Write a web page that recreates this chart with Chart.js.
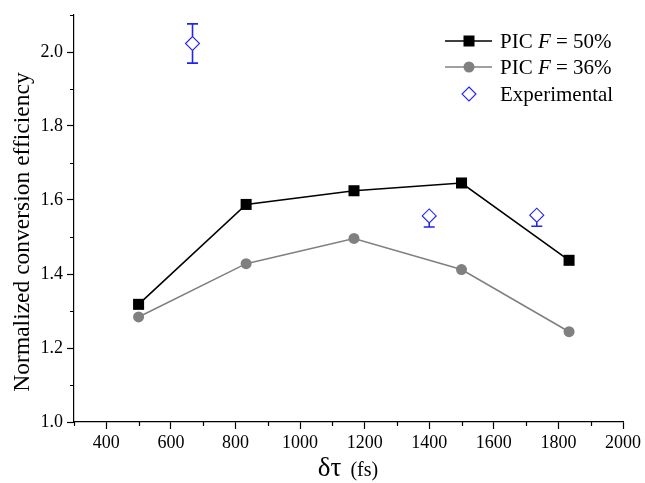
<!DOCTYPE html>
<html>
<head>
<meta charset="utf-8">
<script src="https://cdn.jsdelivr.net/npm/chart.js@4.4.1/dist/chart.umd.min.js"></script>
<style>
    html, body { margin: 0; padding: 0; background: #fff; }
    #wrap { width: 645px; height: 483px; }
</style>
</head>
<body>
<div id="wrap"><canvas id="chart" width="645" height="483"></canvas></div>
<script>
// values
const delays = [500, 833, 1167, 1500, 1833];
const pic50 = [1.318, 1.588, 1.625, 1.646, 1.437];
const pic36 = [1.284, 1.428, 1.496, 1.412, 1.244];

const expDelays = [667, 1400, 1733];
const expValues = [2.023, 1.557, 1.559];
const expErrUp = [0.053, 0, 0];
const expErrDown = [0.053, 0.03, 0.03];

const xTicks = [400, 600, 800, 1000, 1200, 1400, 1600, 1800, 2000];
const xMinor = [300, 500, 700, 900, 1100, 1300, 1500, 1700, 1900];
const yTicks = [1.0, 1.2, 1.4, 1.6, 1.8, 2.0];
const yMinor = [1.1, 1.3, 1.5, 1.7, 1.9, 2.1];

const SERIF = '"Liberation Serif", "Times New Roman", serif';
const BLUE = "#2323f0";

Chart.defaults.font.family = SERIF;
Chart.defaults.color = "#000";

// error bars on the experimental points, through the chart's own scales
const errorBars = {
    id: "errorBars",
    afterDatasetsDraw(chart) {
        const { ctx, scales: { x, y } } = chart;
        const r = 7;
        ctx.save();
        ctx.strokeStyle = BLUE;
        ctx.lineWidth = 1.6;
        expDelays.forEach((d, i) => {
            const px = x.getPixelForValue(d);
            const py = y.getPixelForValue(expValues[i]);
            const segs = [];
            if (expErrUp[i] > 0) segs.push([py - r, y.getPixelForValue(expValues[i] + expErrUp[i])]);
            if (expErrDown[i] > 0) segs.push([py + r, y.getPixelForValue(expValues[i] - expErrDown[i])]);
            for (const [from, to] of segs) {
                ctx.beginPath();
                ctx.moveTo(px, from);
                ctx.lineTo(px, to);
                ctx.moveTo(px - 5.5, to);
                ctx.lineTo(px + 5.5, to);
                ctx.stroke();
            }
        });
        ctx.restore();
    },
};

// minor ticks, axis titles and the legend (needs italic F)
const decorations = {
    id: "decorations",
    afterDraw(chart) {
        const { ctx, chartArea, scales: { x, y } } = chart;
        ctx.save();
        ctx.strokeStyle = "#000";
        ctx.lineWidth = 1.2;
        ctx.beginPath();
        for (const v of xMinor) {
            const px = Math.round(x.getPixelForValue(v)) + 0.5;
            ctx.moveTo(px, chartArea.bottom);
            ctx.lineTo(px, chartArea.bottom + 4);
        }
        for (const v of yMinor) {
            const py = Math.round(y.getPixelForValue(v)) + 0.5;
            ctx.moveTo(chartArea.left, py);
            ctx.lineTo(chartArea.left - 4, py);
        }
        ctx.stroke();

        // x title: δτ (fs)
        ctx.fillStyle = "#000";
        ctx.textBaseline = "alphabetic";
        ctx.textAlign = "left";
        const big = "27px " + SERIF;
        const small = "20px " + SERIF;
        ctx.font = big;
        const w1 = ctx.measureText("δτ").width;
        ctx.font = small;
        const w2 = ctx.measureText("  (fs)").width;
        const cx = (chartArea.left + chartArea.right) / 2;
        const base = 476;
        let tx = cx - (w1 + w2) / 2;
        ctx.font = big;
        ctx.fillText("δτ", tx, base);
        ctx.font = small;
        ctx.fillText(" (fs)", tx + w1 + 4, base);

        // y title
        ctx.save();
        ctx.translate(29, 232);
        ctx.rotate(-Math.PI / 2);
        ctx.textAlign = "center";
        ctx.font = "23.5px " + SERIF;
        ctx.fillText("Normalized conversion efficiency", 0, 0);
        ctx.restore();

        // legend
        const lx = chartArea.right - 178;
        const rows = [chartArea.top + 26, chartArea.top + 52, chartArea.top + 79];
        const sets = chart.data.datasets;
        ctx.textBaseline = "middle";
        sets.forEach((ds, i) => {
            const ry = rows[i];
            const mx = lx + 24;
            if (ds.showLine !== false) {
                ctx.strokeStyle = ds.borderColor;
                ctx.lineWidth = ds.borderWidth;
                ctx.beginPath();
                ctx.moveTo(lx, ry);
                ctx.lineTo(lx + 47, ry);
                ctx.stroke();
            }
            ctx.fillStyle = ds.pointBackgroundColor;
            ctx.strokeStyle = ds.pointBorderColor;
            ctx.lineWidth = ds.pointBorderWidth;
            if (ds.pointStyle === "rect") {
                ctx.fillRect(mx - 5.5, ry - 5.5, 11, 11);
            } else if (ds.pointStyle === "circle") {
                ctx.beginPath();
                ctx.arc(mx, ry, 5.5, 0, Math.PI * 2);
                ctx.fill();
            } else {
                ctx.beginPath();
                ctx.moveTo(mx, ry - 7);
                ctx.lineTo(mx + 7, ry);
                ctx.lineTo(mx, ry + 7);
                ctx.lineTo(mx - 7, ry);
                ctx.closePath();
                ctx.stroke();
            }
            ctx.fillStyle = "#000";
            let t = lx + 55;
            for (const [txt, it] of ds.legendParts) {
                ctx.font = (it ? "italic " : "") + "21px " + SERIF;
                ctx.fillText(txt, t, ry + 1);
                t += ctx.measureText(txt).width;
            }
        });
        ctx.restore();
    },
};

const toPoints = (xs, ys) => xs.map((v, i) => ({ x: v, y: ys[i] }));

new Chart(document.getElementById("chart"), {
    type: "scatter",
    data: {
        datasets: [
            {
                label: "PIC F = 50%",
                legendParts: [["PIC ", false], ["F", true], [" = 50%", false]],
                data: toPoints(delays, pic50),
                showLine: true,
                borderColor: "#000",
                borderWidth: 1.6,
                pointStyle: "rect",
                pointRadius: 7.8,
                pointBackgroundColor: "#000",
                pointBorderColor: "#000",
                pointBorderWidth: 0,
            },
            {
                label: "PIC F = 36%",
                legendParts: [["PIC ", false], ["F", true], [" = 36%", false]],
                data: toPoints(delays, pic36),
                showLine: true,
                borderColor: "#808080",
                borderWidth: 1.6,
                pointStyle: "circle",
                pointRadius: 5.5,
                pointBackgroundColor: "#808080",
                pointBorderColor: "#808080",
                pointBorderWidth: 0,
            },
            {
                label: "Experimental",
                legendParts: [["Experimental", false]],
                data: toPoints(expDelays, expValues),
                showLine: false,
                pointStyle: "rectRot",
                pointRadius: 7,
                pointBackgroundColor: "rgba(0,0,0,0)",
                pointBorderColor: BLUE,
                pointBorderWidth: 1.1,
            },
        ],
    },
    options: {
        responsive: false,
        animation: false,
        layout: { padding: { top: 15, right: 22, left: 0, bottom: 0 } },
        plugins: {
            legend: { display: false },
            tooltip: { enabled: false },
        },
        scales: {
            x: {
                type: "linear",
                min: 300,
                max: 2000,
                afterBuildTicks: (scale) => { scale.ticks = xTicks.map((v) => ({ value: v })); },
                afterFit: (scale) => { scale.height = 61; },
                grid: { drawOnChartArea: false, tickLength: 7, tickColor: "#000", tickWidth: 1.2 },
                border: { color: "#000", width: 1.2 },
                ticks: { font: { size: 18 }, padding: 3, maxRotation: 0, color: "#000", callback: (v) => String(v) },
            },
            y: {
                min: 1.0,
                max: 2.1,
                afterBuildTicks: (scale) => { scale.ticks = yTicks.map((v) => ({ value: v })); },
                afterFit: (scale) => { scale.width = 74; },
                grid: { drawOnChartArea: false, tickLength: 7, tickColor: "#000", tickWidth: 1.2 },
                border: { color: "#000", width: 1.2 },
                ticks: { font: { size: 18 }, padding: 4, color: "#000", callback: (v) => v.toFixed(1) },
            },
        },
    },
    plugins: [errorBars, decorations],
});
</script>
</body>
</html>
